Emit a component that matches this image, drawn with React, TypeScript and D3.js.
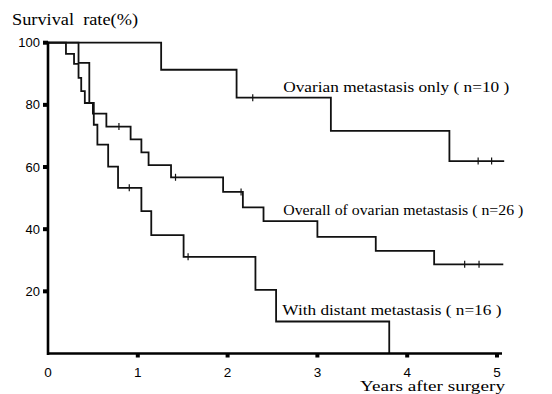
import React, { useEffect, useRef } from 'react'
import * as d3 from 'd3'

// Ovarian metastasis only (n=10)
const onlyTimes = [0, 1.26, 2.1, 3.15, 4.47, 5.08]
const onlySurv = [100, 91.3, 82.3, 71.6, 61.9, 61.9]
const onlyCensor = [2.28, 4.79, 4.94]

// Overall of ovarian metastasis (n=26)
const allTimes = [0, 0.2, 0.29, 0.34, 0.37, 0.41, 0.5, 0.65, 0.92, 1.04, 1.12, 1.37, 1.95, 2.17, 2.4, 3.0, 3.65, 4.3, 5.07]
const allSurv = [100, 96.4, 93.2, 88.7, 84.4, 80.6, 77.2, 73.0, 68.9, 64.7, 60.6, 56.7, 52.0, 47.0, 42.6, 37.5, 33.0, 28.7, 28.7]
const allCensor = [0.79, 1.42, 2.15, 4.64, 4.8]

// With distant metastasis (n=16)
const distTimes = [0, 0.34, 0.46, 0.51, 0.55, 0.67, 0.78, 1.04, 1.15, 1.51, 2.31, 2.54, 3.8]
const distSurv = [100, 93.5, 80.6, 73.6, 67.2, 60.1, 53.3, 45.8, 38.1, 31.1, 20.5, 10.3, 0]
const distCensor = [0.905, 1.56]

const yTicks = [20, 40, 60, 80, 100]
const xTicks = [0, 1, 2, 3, 4, 5]

const curveLabels = ['Ovarian metastasis only ( n=10 )', 'Overall of ovarian metastasis ( n=26 )', 'With distant metastasis ( n=16 )']

const serif = '"Liberation Serif", "DejaVu Serif", serif'
const sans = '"Liberation Sans", Arial, sans-serif'

export default function App() {
  const ref = useRef<SVGSVGElement>(null)

  useEffect(() => {
    const svg = d3.select(ref.current)
    svg.selectAll('*').remove()

    const x = d3.scaleLinear().domain([0, 5]).range([48, 497])
    const y = d3.scaleLinear().domain([0, 100]).range([353.5, 42.7])

    const line = d3.line<[number, number]>()
      .x(d => x(d[0]))
      .y(d => y(d[1]))
      .curve(d3.curveStepAfter)

    const groups = [
      { t: onlyTimes, s: onlySurv, c: onlyCensor },
      { t: allTimes, s: allSurv, c: allCensor },
      { t: distTimes, s: distSurv, c: distCensor },
    ]

    // survival curves
    groups.forEach(gr => {
      const pts = gr.t.map((t, i) => [t, gr.s[i]] as [number, number])
      svg.append('path')
        .attr('d', line(pts))
        .attr('fill', 'none')
        .attr('stroke', '#111')
        .attr('stroke-width', 1.8)
      // censoring marks
      gr.c.forEach(ct => {
        const idx = d3.bisectRight(gr.t, ct) - 1
        const v = gr.s[idx]
        svg.append('line')
          .attr('x1', x(ct)).attr('x2', x(ct))
          .attr('y1', y(v) - 3.5).attr('y2', y(v) + 3.5)
          .attr('stroke', '#111')
          .attr('stroke-width', 1.2)
      })
    })

    // axes
    svg.append('line')
      .attr('x1', x(0)).attr('x2', x(0))
      .attr('y1', y(100) - 1).attr('y2', y(0) + 1.5)
      .attr('stroke', '#000').attr('stroke-width', 2.6)
    svg.append('line')
      .attr('x1', x(0) - 1).attr('x2', x(5) + 5)
      .attr('y1', y(0)).attr('y2', y(0))
      .attr('stroke', '#000').attr('stroke-width', 2.6)

    // y ticks
    yTicks.forEach(v => {
      svg.append('rect')
        .attr('x', x(0) - 5).attr('y', y(v) - 2)
        .attr('width', 5).attr('height', 4)
        .attr('fill', '#000')
      svg.append('text')
        .attr('x', 40).attr('y', y(v) + 4.5)
        .attr('text-anchor', 'end')
        .attr('font-family', sans)
        .attr('font-size', 13)
        .text(v)
    })

    // x ticks
    xTicks.forEach(v => {
      if (v > 0) {
        svg.append('rect')
          .attr('x', x(v) - 2).attr('y', y(0))
          .attr('width', 4).attr('height', 4)
          .attr('fill', '#000')
      }
      svg.append('text')
        .attr('x', x(v)).attr('y', 377)
        .attr('text-anchor', 'middle')
        .attr('font-family', sans)
        .attr('font-size', 13.5)
        .text(v)
    })

    // titles
    svg.append('text')
      .attr('x', 12).attr('y', 25)
      .attr('font-family', serif)
      .attr('font-size', 16)
      .attr('textLength', 126)
      .attr('lengthAdjust', 'spacingAndGlyphs')
      .text('Survival\u00a0\u00a0rate(%)')
    svg.append('text')
      .attr('x', 360).attr('y', 390.5)
      .attr('font-family', serif)
      .attr('font-size', 15)
      .attr('textLength', 145)
      .attr('lengthAdjust', 'spacingAndGlyphs')
      .text('Years after surgery')

    // curve labels
    const labelPos = [
      { t: 2.62, s: 84.2, w: 226 },
      { t: 2.62, s: 44.5, w: 240 },
      { t: 2.61, s: 12.3, w: 219 },
    ]
    curveLabels.forEach((lab, i) => {
      svg.append('text')
        .attr('x', x(labelPos[i].t)).attr('y', y(labelPos[i].s))
        .attr('font-family', serif)
        .attr('font-size', 15)
        .attr('textLength', labelPos[i].w)
        .attr('lengthAdjust', 'spacingAndGlyphs')
        .text(lab)
    })
  }, [])

  return (
    <div style={{ position: 'absolute', left: 0, top: 0 }}>
      <svg ref={ref} width={552} height={394} style={{ display: 'block', background: '#fff' }} />
    </div>
  )
}
